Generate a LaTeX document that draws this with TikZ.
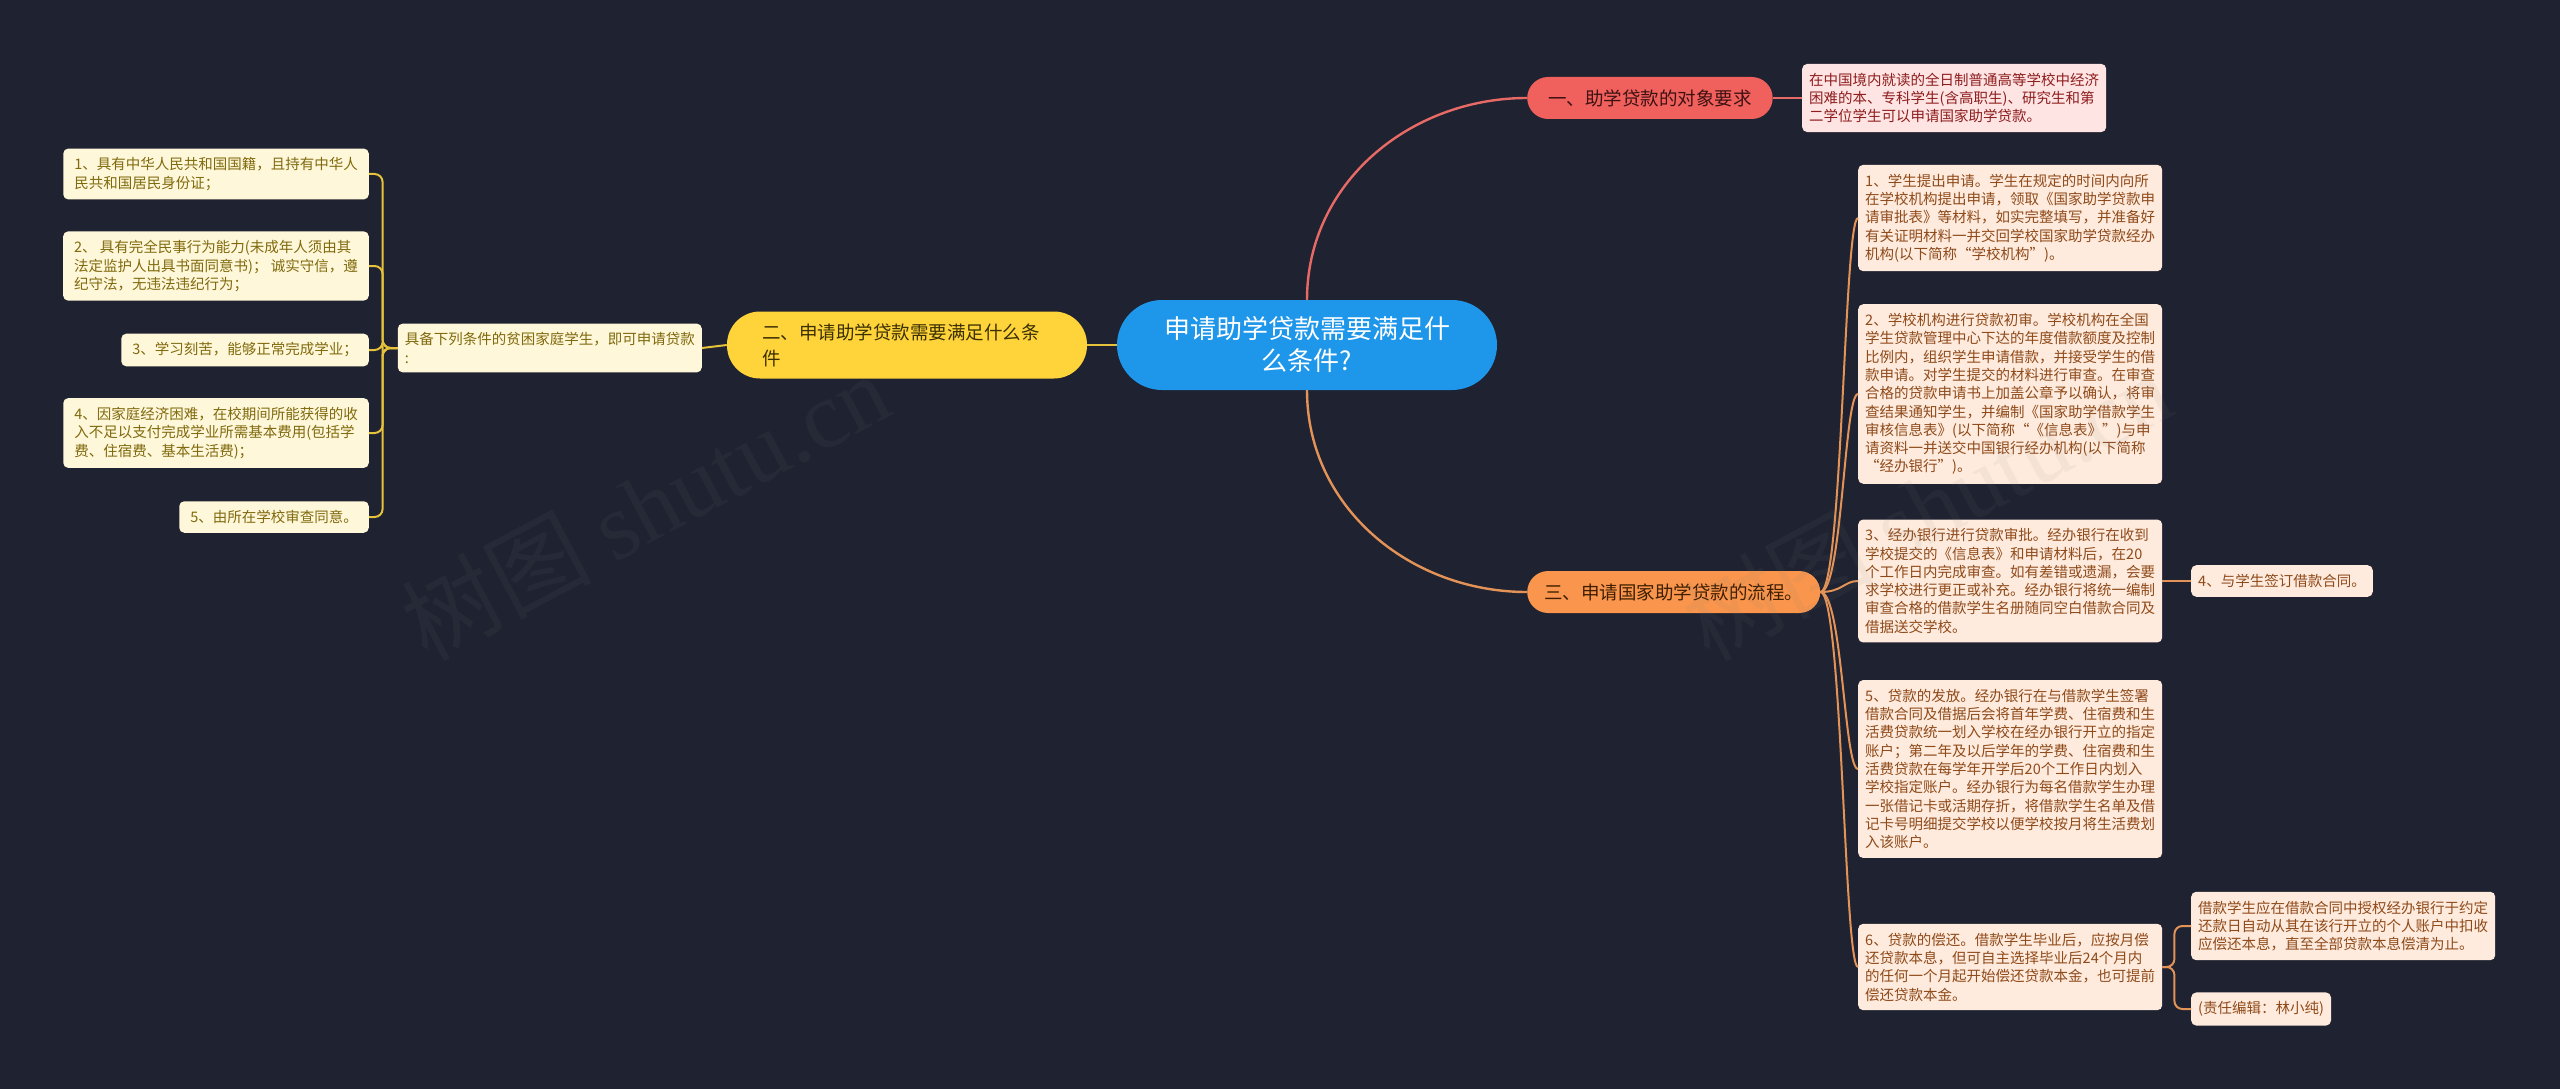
\documentclass[tikz,border=0pt]{standalone}
\usepackage{fontspec}
\setmainfont{Noto Sans CJK SC}
\newfontfamily\wmlatin{Liberation Serif}
\usetikzlibrary{calc}
\definecolor{bg}{HTML}{1F2230}
\definecolor{cblue}{HTML}{1E96EA}
\definecolor{redfill}{HTML}{F0605D}
\definecolor{redtext}{HTML}{3D1212}
\definecolor{redlight}{HTML}{FFE4E4}
\definecolor{redltext}{HTML}{8E1D1D}
\definecolor{redline}{HTML}{E86A66}
\definecolor{yelfill}{HTML}{FFD43B}
\definecolor{yeltext}{HTML}{3B3000}
\definecolor{yellight}{HTML}{FFF7D9}
\definecolor{yelltext}{HTML}{806A0E}
\definecolor{yelline}{HTML}{E6C23A}
\definecolor{orfill}{HTML}{F9954C}
\definecolor{ortext}{HTML}{3F1F00}
\definecolor{orlight}{HTML}{FEEBDD}
\definecolor{orltext}{HTML}{8F4A1A}
\definecolor{orline}{HTML}{E39357}
\tikzset{
  central/.style={rectangle, rounded corners=45pt, fill=cblue, text=white, align=center,
    minimum width=380pt, minimum height=90pt, inner sep=0pt,
    font=\fontsize{26}{32}\selectfont},
  branchbox/.style={rectangle, fill=#1, align=left, inner xsep=21pt, inner ysep=0pt,
    minimum height=42pt, rounded corners=21pt, font=\fontsize{18.5}{24}\selectfont},
  detailbox/.style={rectangle, rounded corners=5pt, align=left, inner xsep=7pt, inner ysep=9pt,
    font=\fontsize{14.5}{18.3}\selectfont},
  redbox/.style={detailbox, fill=redlight, text=redltext},
  yelbox/.style={detailbox, fill=yellight, text=yelltext, inner xsep=11pt},
  orbox/.style={detailbox, fill=orlight, text=orltext},
  mainline/.style={line width=2.4pt},
  subline/.style={line width=2pt, rounded corners=8pt},
  watermark/.style={text=gray, opacity=0.08, rotate=28, font=\fontsize{95}{100}\selectfont}
}
\begin{document}
\begin{tikzpicture}[x=1pt,y=-1pt]
\fill[bg] (0,0) rectangle (2560,1089);
\useasboundingbox (0,0) rectangle (2560,1089);

% centre
\node[central] (c) at (1307,345) {申请助学贷款需要满足什\\么条件?};

% branch 1
\node[branchbox=redfill, text=redtext, anchor=west] (b1) at (1527,98) {一、助学贷款的对象要求};
\node[redbox, anchor=west] (e1) at (1802,98) {在中国境内就读的全日制普通高等学校中经济\\困难的本、专科学生(含高职生)、研究生和第\\二学位学生可以申请国家助学贷款。};

% branch 2
\node[branchbox=yelfill, text=yeltext, text width=290pt, inner xsep=35pt, minimum height=67pt, rounded corners=33pt, font=\fontsize{18.5}{26}\selectfont] (b2) at (907,345) {二、申请助学贷款需要满足什么条\\件};
\node[yelbox, inner xsep=7pt, anchor=east] (q2) at (702,348) {具备下列条件的贫困家庭学生，即可申请贷款\\:};
\node[yelbox, anchor=east] (i1) at (369,174) {1、具有中华人民共和国国籍，且持有中华人\\民共和国居民身份证；};
\node[yelbox, anchor=east] (i2) at (369,266) {2、 具有完全民事行为能力(未成年人须由其\\法定监护人出具书面同意书)； 诚实守信，遵\\纪守法，无违法违纪行为；};
\node[yelbox, anchor=east] (i3) at (369,350) {3、学习刻苦，能够正常完成学业；};
\node[yelbox, anchor=east] (i4) at (369,433) {4、因家庭经济困难，在校期间所能获得的收\\入不足以支付完成学业所需基本费用(包括学\\费、住宿费、基本生活费)；};
\node[yelbox, anchor=east] (i5) at (369,517) {5、由所在学校审查同意。};

% branch 3
\node[branchbox=orfill, text=ortext, inner xsep=17pt, anchor=west] (b3) at (1527,592) {三、申请国家助学贷款的流程。};
\node[orbox, anchor=west] (d1) at (1858,218) {1、学生提出申请。学生在规定的时间内向所\\在学校机构提出申请，领取《国家助学贷款申\\请审批表》等材料，如实完整填写，并准备好\\有关证明材料一并交回学校国家助学贷款经办\\机构(以下简称“学校机构”)。};
\node[orbox, anchor=west] (d2) at (1858,394) {2、学校机构进行贷款初审。学校机构在全国\\学生贷款管理中心下达的年度借款额度及控制\\比例内，组织学生申请借款，并接受学生的借\\款申请。对学生提交的材料进行审查。在审查\\合格的贷款申请书上加盖公章予以确认，将审\\查结果通知学生，并编制《国家助学借款学生\\审核信息表》(以下简称“《信息表》”)与申\\请资料一并送交中国银行经办机构(以下简称\\“经办银行”)。};
\node[orbox, anchor=west] (d3) at (1858,581) {3、经办银行进行贷款审批。经办银行在收到\\学校提交的《信息表》和申请材料后，在20\\个工作日内完成审查。如有差错或遗漏，会要\\求学校进行更正或补充。经办银行将统一编制\\审查合格的借款学生名册随同空白借款合同及\\借据送交学校。};
\node[orbox, anchor=west] (d4) at (2191,581) {4、与学生签订借款合同。};
\node[orbox, anchor=west] (d5) at (1858,769) {5、贷款的发放。经办银行在与借款学生签署\\借款合同及借据后会将首年学费、住宿费和生\\活费贷款统一划入学校在经办银行开立的指定\\账户；第二年及以后学年的学费、住宿费和生\\活费贷款在每学年开学后20个工作日内划入\\学校指定账户。经办银行为每名借款学生办理\\一张借记卡或活期存折，将借款学生名单及借\\记卡号明细提交学校以便学校按月将生活费划\\入该账户。};
\node[orbox, anchor=west] (d6) at (1858,967) {6、贷款的偿还。借款学生毕业后，应按月偿\\还贷款本息，但可自主选择毕业后24个月内\\的任何一个月起开始偿还贷款本金，也可提前\\偿还贷款本金。};
\node[orbox, anchor=west] (d6a) at (2191,926) {借款学生应在借款合同中授权经办银行于约定\\还款日自动从其在该行开立的个人账户中扣收\\应偿还本息，直至全部贷款本息偿清为止。};
\node[orbox, anchor=west] (d6b) at (2191,1009) {(责任编辑：林小纯)};

% connectors from centre
\draw[mainline, redline] (c.north) .. controls ($(c.north)+(0,-117)$) and ($(b1.west)+(-117,0)$) .. (b1.west);
\draw[mainline, orline] (c.south) .. controls ($(c.south)+(0,117)$) and ($(b3.west)+(-117,0)$) .. (b3.west);
\draw[mainline, yelline] (c.west) -- (b2.east);

% branch 1 detail
\draw[subline, redline] (b1.east) -- (e1.west);

% branch 2 details
\draw[subline, yelline] (b2.west) -- (q2.east);
\coordinate (lj) at ($(q2.west)+(-15,0)$);
\foreach \n in {i1,i2,i3,i4,i5}
  \draw[subline, yelline] (q2.west) -- (lj) |- (\n.east);

% branch 3 details
\foreach \n in {d1,d2,d3,d5,d6}
  \draw[subline, orline] (b3.east) .. controls ($(b3.east)+(22,0)$) and ($(\n.west)+(-14,0)$) .. (\n.west);
\draw[subline, orline] (d3.east) -- (d4.west);
\coordinate (rj) at ($(d6.east)+(12,0)$);
\draw[subline, orline] (d6.east) -- (rj) |- (d6a.west);
\draw[subline, orline] (d6.east) -- (rj) |- (d6b.west);

% watermarks
\node[watermark] (wm1) at (645,506) {树图 {\wmlatin shutu.cn}};
\node[watermark] (wm2) at (1927,506) {树图 {\wmlatin shutu.cn}};
\end{tikzpicture}
\end{document}
